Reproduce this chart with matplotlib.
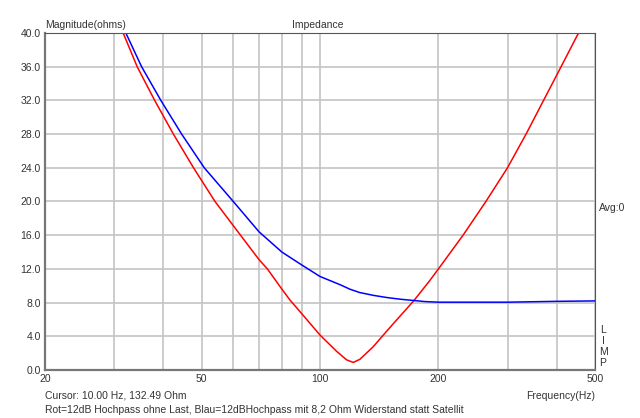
import matplotlib
matplotlib.use("Agg")
import matplotlib.pyplot as plt
from matplotlib.ticker import FixedLocator, NullFormatter, FixedFormatter

plt.rcParams['font.family'] = ['Liberation Sans', 'DejaVu Sans']

# Red: 12dB Hochpass ohne Last
red_f = [31.6, 34.3, 38.0, 42.4, 47.7, 54.1, 62.8, 70, 73.5, 80, 83.9, 90, 100, 110.3, 116.9,
         121.5, 126.3, 136.6, 148, 157, 173, 190, 200, 231, 264, 299.6, 334, 370, 410, 454]
red_z = [40.0, 36.0, 32.0, 28.0, 24.0, 20.0, 16.0, 13.1, 12.0, 9.6, 8.3, 6.65, 4.15, 2.2, 1.2,
         0.9, 1.27, 2.77, 4.65, 6.0, 8.2, 10.6, 12.0, 16.0, 20.0, 24.0, 28.0, 32.0, 36.0, 40.0]

# Blue: 12dB Hochpass mit 8,2 Ohm Widerstand statt Satellit
blue_f = [32.1, 35.2, 39.4, 44.5, 50.8, 60.2, 70, 80, 90, 100, 112.8, 119, 126, 137, 148, 160,
          173, 185, 200, 300, 400, 500]
blue_z = [40.0, 36.0, 32.0, 28.0, 24.0, 20.0, 16.4, 14.0, 12.45, 11.1, 10.1, 9.6, 9.2, 8.85, 8.6, 8.4,
          8.25, 8.12, 8.05, 8.05, 8.15, 8.2]

y_ticks = [0, 4, 8, 12, 16, 20, 24, 28, 32, 36, 40]
x_grid = [20, 30, 40, 50, 60, 70, 80, 90, 100, 200, 300, 400, 500]
x_labels = [20, 50, 100, 200, 500]

fig = plt.figure(figsize=(6.4, 4.18), dpi=100)
ax = fig.add_axes([45/640, 48/418, 550/640, 337/418])
ax.set_xscale('log')
ax.set_xlim(20, 500)
ax.set_ylim(0, 40)

ax.plot(red_f, red_z, color='#ff0000', lw=1.1)
ax.plot(blue_f, blue_z, color='#0000ff', lw=1.1)

ax.xaxis.set_major_locator(FixedLocator(x_labels))
ax.xaxis.set_major_formatter(FixedFormatter([str(v) for v in x_labels]))
ax.xaxis.set_minor_locator(FixedLocator(x_grid))
ax.xaxis.set_minor_formatter(NullFormatter())
ax.set_yticks(y_ticks)
ax.set_yticklabels([f"{v:.1f}" for v in y_ticks])

for xv in x_grid:
    ax.axvline(xv, color='#c4c4c4', lw=1.2, zorder=0)
for yv in y_ticks:
    ax.axhline(yv, color='#c4c4c4', lw=1.2, zorder=0)

ax.tick_params(axis='both', which='both', length=0, labelsize=7.5, colors='#333333', pad=3)
for s in ['top', 'right']:
    ax.spines[s].set_color('#555555')
    ax.spines[s].set_linewidth(0.8)
for s in ['left', 'bottom']:
    ax.spines[s].set_color('#777777')
    ax.spines[s].set_linewidth(1.6)

tc = '#333333'
fs = 7.5
fig.text(45/640, 1 - 25/418, 'Magnitude(ohms)', fontsize=fs, color=tc, ha='left', va='center')
fig.text(318/640, 1 - 25/418, 'Impedance', fontsize=fs, color=tc, ha='center', va='center')
fig.text(599/640, 1 - 208/418, 'Avg:0', fontsize=fs, color=tc, ha='left', va='center')
for i, ch in enumerate('LIMP'):
    fig.text(603/640, 1 - (330 + i*11)/418, ch, fontsize=fs, color=tc, ha='center', va='center')
fig.text(45/640, 1 - 396/418, 'Cursor: 10.00 Hz, 132.49 Ohm', fontsize=fs, color=tc, ha='left', va='center')
fig.text(45/640, 1 - 410/418, 'Rot=12dB Hochpass ohne Last, Blau=12dBHochpass mit 8,2 Ohm Widerstand statt Satellit',
         fontsize=fs, color=tc, ha='left', va='center')
fig.text(595/640, 1 - 396/418, 'Frequency(Hz)', fontsize=fs, color=tc, ha='right', va='center')

fig.savefig('out.png', dpi=100)
